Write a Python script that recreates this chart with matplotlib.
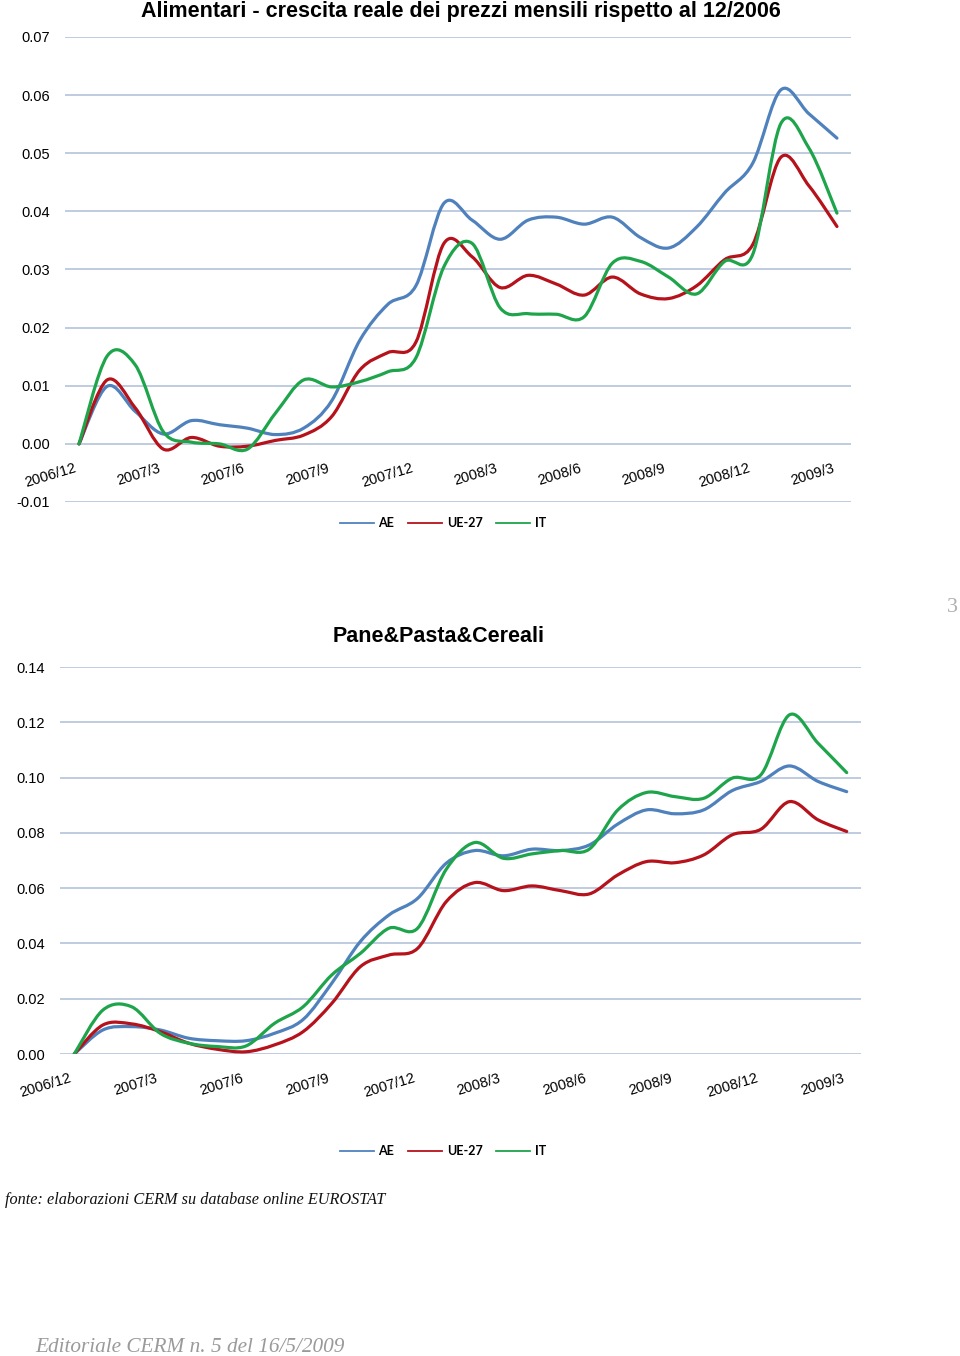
import matplotlib
matplotlib.use('Agg')
import matplotlib.pyplot as plt
from matplotlib.path import Path
from matplotlib.patches import PathPatch
from matplotlib.lines import Line2D
import matplotlib.transforms as mtransforms
import numpy as np

months = ['2006/12', '2007/1', '2007/2', '2007/3', '2007/4', '2007/5', '2007/6',
          '2007/7', '2007/8', '2007/9', '2007/10', '2007/11', '2007/12',
          '2008/1', '2008/2', '2008/3', '2008/4', '2008/5', '2008/6',
          '2008/7', '2008/8', '2008/9', '2008/10', '2008/11', '2008/12',
          '2009/1', '2009/2', '2009/3']
tick_labels = months[::3]
series_names = ['AE', 'UE-27', 'IT']

# Alimentari
top_ae = [0, 0.0099, 0.0056, 0.0017, 0.0040, 0.0033, 0.0027, 0.0016, 0.0027, 0.0074,
          0.0178, 0.0240, 0.0272, 0.0414, 0.0385, 0.0352, 0.0385, 0.0390, 0.0378,
          0.0390, 0.0355, 0.0337, 0.0373, 0.0432, 0.0483, 0.0609, 0.0568, 0.0526]
top_ue = [0, 0.0110, 0.0062, -0.0009, 0.0011, -0.0004, -0.0004, 0.0006, 0.0015, 0.0047,
          0.0127, 0.0157, 0.0175, 0.0345, 0.0322, 0.0269, 0.0290, 0.0275, 0.0256,
          0.0287, 0.0258, 0.0250, 0.0272, 0.0317, 0.0343, 0.0493, 0.0444, 0.0374]
top_it = [0, 0.0151, 0.0136, 0.0021, 0.0003, 0.0000, -0.0009, 0.0053, 0.0110, 0.0098,
          0.0107, 0.0124, 0.0148, 0.0305, 0.0345, 0.0234, 0.0224, 0.0223, 0.0219,
          0.0311, 0.0314, 0.0287, 0.0258, 0.0314, 0.0326, 0.0551, 0.0509, 0.0397]

# Pane&Pasta&Cereali
pane_ae = [0, 0.0087, 0.0099, 0.0087, 0.0057, 0.0048, 0.0048, 0.0075, 0.0125, 0.0256,
           0.0407, 0.0503, 0.0563, 0.0690, 0.0736, 0.0717, 0.0741, 0.0736, 0.0756,
           0.0832, 0.0883, 0.0869, 0.0883, 0.0953, 0.0986, 0.1042, 0.0986, 0.0949]
pane_ue = [0, 0.0105, 0.0109, 0.0081, 0.0039, 0.0017, 0.0008, 0.0033, 0.0081, 0.0183,
           0.0316, 0.0358, 0.0382, 0.0551, 0.0620, 0.0591, 0.0608, 0.0591, 0.0579,
           0.0648, 0.0696, 0.0692, 0.0720, 0.0793, 0.0813, 0.0913, 0.0847, 0.0805]
pane_it = [0, 0.0159, 0.0171, 0.0075, 0.0039, 0.0027, 0.0029, 0.0111, 0.0171, 0.0286,
           0.0364, 0.0455, 0.0455, 0.0668, 0.0765, 0.0708, 0.0724, 0.0736, 0.0741,
           0.0883, 0.0946, 0.0931, 0.0925, 0.0998, 0.1010, 0.1227, 0.1124, 0.1018]

colors = ['#4F81BD', '#B5121B', '#1EA54B']
grid_color = '#BAC7DD'
sans = ['Liberation Sans', 'DejaVu Sans']


def smooth_path(xs, ys):
    pts = np.column_stack([xs, ys]).astype(float)
    n = len(pts)
    verts = [pts[0]]
    codes = [Path.MOVETO]
    for i in range(n - 1):
        p0 = pts[i - 1] if i > 0 else pts[i]
        p1 = pts[i]
        p2 = pts[i + 1]
        p3 = pts[i + 2] if i + 2 < n else pts[i + 1]
        c1 = p1 + (p2 - p0) / 6.0
        c2 = p2 - (p3 - p1) / 6.0
        verts += [c1, c2, p2]
        codes += [Path.CURVE4] * 3
    return Path(verts, codes)


def draw_panel(ax, data, ymin, ymax, step, label_pad):
    x = np.arange(len(months))
    for vals, c in zip(data, colors):
        patch = PathPatch(smooth_path(x, vals), fill=False, edgecolor=c, lw=2.3,
                          capstyle='round', joinstyle='round', zorder=3)
        ax.add_patch(patch)
    ax.set_xlim(-0.5, len(months) - 0.5)
    ax.set_ylim(ymin, ymax)
    yt = np.round(np.arange(ymin, ymax + step / 2, step), 4)
    ax.set_yticks(yt)
    ax.set_yticklabels(['%.2f' % v for v in yt], fontfamily=sans, fontsize=10.5)
    ax.yaxis.grid(True, color=grid_color, lw=1.3, zorder=1)
    ax.set_axisbelow(True)
    for s in ax.spines.values():
        s.set_visible(False)
    ax.spines['bottom'].set_position(('data', 0))
    ax.tick_params(axis='y', length=0, pad=11)
    ax.set_xticks(np.arange(0, len(months), 3))
    ax.set_xticklabels(tick_labels, rotation=17, ha='right', fontfamily=sans,
                       fontsize=10.5)
    ax.tick_params(axis='x', length=0, pad=label_pad)
    offset = mtransforms.ScaledTranslation(-1 / 100, 0, ax.figure.dpi_scale_trans)
    for lab in ax.get_xticklabels():
        lab.set_transform(lab.get_transform() + offset)


fig = plt.figure(figsize=(9.6, 13.56), dpi=100)

ax1 = fig.add_axes([65 / 960, 1 - 502 / 1356, 786 / 960, 465 / 1356])
draw_panel(ax1, [top_ae, top_ue, top_it], -0.01, 0.07, 0.01, 12.5)

ax2 = fig.add_axes([60 / 960, 1 - 1054 / 1356, 801 / 960, 387 / 1356])
draw_panel(ax2, [pane_ae, pane_ue, pane_it], 0.0, 0.14, 0.02, 12.5)

fig.text(461 / 960, 1 - 12 / 1356, 'Alimentari - crescita reale dei prezzi mensili rispetto al 12/2006',
         ha='center', va='center', fontsize=15.5, fontweight='bold', fontfamily=sans)
fig.text(439 / 960, 1 - 637 / 1356, 'Pane&Pasta&Cereali', ha='center', va='center',
         fontsize=15.5, fontweight='bold', fontfamily=sans)

handles = [Line2D([], [], color=c, lw=1.3) for c in colors]
for yc in (523, 1151):
    fig.legend(handles, series_names, loc='center', bbox_to_anchor=(443 / 960, 1 - yc / 1356),
               ncol=3, frameon=False, handlelength=2.7, handletextpad=0.4,
               columnspacing=1.1, prop={'family': ['Lato', 'DejaVu Sans'],
                                        'weight': 'bold', 'size': 9})

fig.text(5 / 960, 1 - 1200 / 1356, 'fonte: elaborazioni CERM su database online EUROSTAT',
         ha='left', va='center', fontsize=11.7, style='italic',
         fontfamily=['Liberation Serif', 'DejaVu Serif'], color='#111111')
fig.text(35 / 960, 1 - 1348 / 1356, 'Editoriale CERM n. 5 del 16/5/2009', ha='left',
         va='center', fontsize=15.3, style='italic',
         fontfamily=['Liberation Serif', 'DejaVu Serif'], color='#9A9A9A')
fig.text(947 / 960, 1 - 607 / 1356, '3', ha='left', va='center', fontsize=16,
         fontfamily=['Liberation Serif', 'DejaVu Serif'], color='#B0B0B0')

fig.savefig('out.png', dpi=100, facecolor='white')
